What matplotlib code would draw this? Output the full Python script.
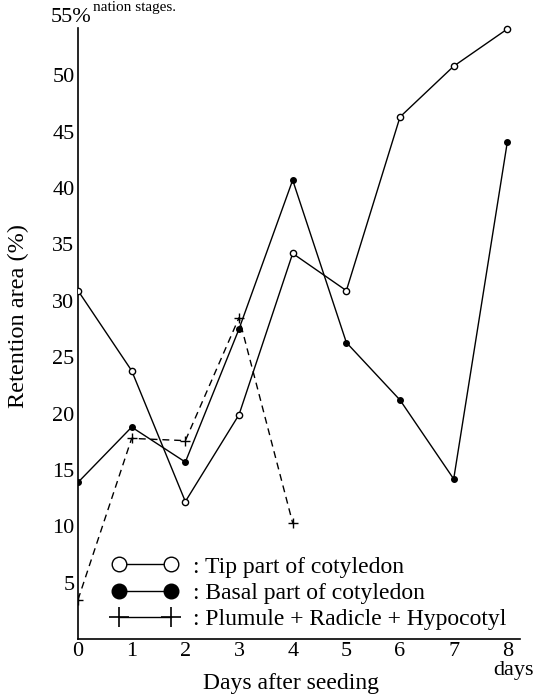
import matplotlib
matplotlib.use("Agg")
import matplotlib.pyplot as plt
from matplotlib.lines import Line2D

plt.rcParams["font.family"] = ["Liberation Serif", "DejaVu Serif"]

# days after seeding
days = [0, 1, 2, 3, 4, 5, 6, 7, 8]
days_plumule = [0, 1, 2, 3, 4]

# retention area (%)
tip = [30.9, 23.8, 12.2, 19.9, 34.2, 30.9, 46.3, 50.8, 54.1]
basal = [13.9, 18.8, 15.7, 27.5, 40.7, 26.3, 21.2, 14.2, 44.1]
plumule = [3.5, 17.8, 17.6, 28.5, 10.3]

xticks = [0, 1, 2, 3, 4, 5, 6, 7, 8]
yticks = [5, 10, 15, 20, 25, 30, 35, 40, 45, 50]

fig = plt.figure(figsize=(5.38, 6.97), dpi=100)
ax = fig.add_axes([0.145, 0.083, 0.822, 0.89])

ax.plot(days, tip, color="black", lw=1.0, marker="o", ms=4.5,
        mfc="white", mec="black", mew=1.0, zorder=3)
ax.plot(days, basal, color="black", lw=1.0, marker="o", ms=4,
        mfc="black", mec="black", zorder=3)
ax.plot(days_plumule, plumule, color="black", lw=1.0, ls=(0, (5, 3.5)),
        marker="+", ms=7, mew=1.0, zorder=3)

ax.set_xlim(0, 8.24)
ax.set_ylim(0, 55)
ax.spines["top"].set_visible(False)
ax.spines["right"].set_visible(False)
ax.spines["left"].set_bounds(0, 54.2)
ax.spines["left"].set_linewidth(1.2)
ax.spines["bottom"].set_linewidth(1.2)

ax.set_xticks(xticks)
ax.set_xticklabels([str(d) for d in xticks])
ax.set_yticks(yticks)
ax.set_yticklabels([str(v) for v in yticks])
ax.tick_params(length=0, labelsize=16)
ax.tick_params(axis="y", pad=2.5)
ax.tick_params(axis="x", pad=2)
ax.annotate("55%", xy=(0, 55), xytext=(-5, 1), textcoords="offset points",
            ha="center", va="center", fontsize=16, annotation_clip=False)

fig.text(291 / 538, 1 - 684 / 697, "Days after seeding", ha="center", va="center", fontsize=17)
fig.text(514 / 538, 1 - 671 / 697, "days", ha="center", va="center", fontsize=16)
fig.text(18 / 538, 1 - 316 / 697, "Retention area (%)", ha="center", va="center",
         rotation=90, fontsize=17.5)
fig.text(93 / 538, 0.999, "nation stages.", ha="left", va="top", fontsize=11)

handles = [
    Line2D([], [], color="black", lw=1.0, marker="o", ms=10.5, mfc="white", mec="black", mew=1.0),
    Line2D([], [], color="black", lw=1.0, marker="o", ms=10.5, mfc="black", mec="black"),
    Line2D([], [], color="black", lw=1.0, marker="+", ms=14, mew=1.2),
]
labels = [": Tip part of cotyledon", ": Basal part of cotyledon",
          ": Plumule + Radicle + Hypocotyl"]
fig.legend(handles, labels, loc="upper left", bbox_to_anchor=(112 / 538, 1 - 556 / 697),
           frameon=False, numpoints=2, handlelength=2.8, handletextpad=0.63,
           labelspacing=0.2, fontsize=17, borderpad=0, borderaxespad=0)

fig.savefig("out.png", dpi=100)
